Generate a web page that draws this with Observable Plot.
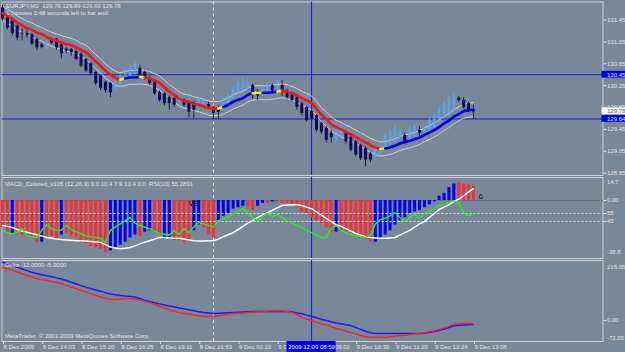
<!DOCTYPE html>
<html><head><meta charset="utf-8">
<script src="https://cdn.jsdelivr.net/npm/d3@7"></script>
<script src="https://cdn.jsdelivr.net/npm/@observablehq/plot@0.6"></script>
<style>
html,body{margin:0;padding:0;background:#778899;}
#chart{position:relative;width:625px;height:352px;background:#778899;overflow:hidden;}
#chart svg{position:absolute;left:0;background:transparent !important;overflow:visible;}
</style></head>
<body><div id="chart"></div>
<script>
// ---------- DATA ----------
const symbolTitle = "EURJPY,M2  129.78 129.89 129.63 129.78";
const timerText = "1 minutes 0:48 seconds left to bar end";
const macdTitle = "MACD_Colored_v105 (12,26,9) 0.0 10.4 7.9 10.4 0.0  RSI(10) 55.2891";
const deltaTitle = "Delta -12.0000 -5.0000";
const copyright = "MetaTrader. \u00A9 2001-2009 MetaQuotes Software Corp.";

const open = [131.67,131.49,131.43,131.34,131.21,131.20,131.18,131.10,131.00,130.93,
131.10,131.10,131.00,130.92,130.91,130.87,130.82,130.73,130.65,130.49,
130.43,130.31,130.29,130.21,130.25,130.35,130.43,130.47,130.56,130.49,
130.39,130.34,130.12,130.10,130.03,130.01,129.95,129.98,129.94,129.92,
129.88,129.92,129.90,129.85,129.82,129.83,129.92,130.03,130.12,130.16,
130.20,130.25,130.14,130.10,130.15,130.25,130.20,130.25,130.15,130.10,
130.03,129.92,129.85,129.78,129.70,129.56,129.47,129.38,129.26,129.31,
129.38,129.30,129.22,129.16,129.10,129.00,128.94,129.00,129.12,129.20,
129.25,129.30,129.34,129.27,129.36,129.43,129.37,129.40,129.50,129.60,
129.67,129.74,129.80,130.02,129.98,129.92,129.78];
const high = [131.72,131.52,131.45,131.36,131.29,131.25,131.20,131.12,131.03,131.06,
131.12,131.12,131.02,130.95,130.93,130.90,130.85,130.75,130.68,130.52,
130.45,130.33,130.31,130.33,130.45,130.56,130.62,130.70,130.62,130.52,
130.42,130.36,130.15,130.12,130.06,130.04,130.05,130.01,129.97,129.96,
130.05,130.02,129.95,129.87,129.88,129.95,130.10,130.23,130.36,130.40,
130.36,130.28,130.18,130.25,130.30,130.28,130.34,130.34,130.18,130.13,
130.05,129.95,129.87,129.80,129.72,129.58,129.50,129.43,129.45,129.52,
129.40,129.33,129.25,129.18,129.13,129.03,129.10,129.15,129.38,129.44,
129.52,129.45,129.38,129.50,129.55,129.50,129.50,129.66,129.76,129.85,
129.96,130.05,130.12,130.05,130.03,129.95,129.89];
const low = [131.43,131.27,131.16,131.07,131.07,131.12,130.98,130.89,130.92,130.90,
131.00,130.90,130.74,130.83,130.79,130.70,130.58,130.49,130.43,130.25,
130.16,130.12,130.03,130.16,130.20,130.32,130.40,130.45,130.37,130.35,
130.25,130.07,129.95,129.88,129.80,129.85,129.90,129.85,129.67,129.65,
129.85,129.88,129.82,129.63,129.62,129.80,129.90,130.00,130.10,130.14,
130.17,130.00,129.98,130.06,130.12,130.12,130.16,130.05,130.00,129.95,
129.80,129.70,129.58,129.60,129.40,129.36,129.20,129.20,129.23,129.28,
129.18,129.04,128.95,128.88,128.76,128.84,128.90,128.97,129.08,129.17,
129.22,129.27,129.17,129.23,129.30,129.30,129.34,129.37,129.47,129.56,
129.64,129.70,129.78,129.94,129.82,129.75,129.63];
const close = [131.47,131.30,131.20,131.12,131.19,131.16,131.01,130.94,130.95,131.02,
131.03,130.94,130.83,130.88,130.85,130.73,130.61,130.52,130.47,130.29,
130.20,130.16,130.12,130.30,130.42,130.50,130.58,130.66,130.40,130.38,
130.29,130.10,129.98,129.92,129.92,129.89,130.00,129.89,129.76,129.80,
130.00,129.98,129.86,129.74,129.76,129.92,130.06,130.20,130.31,130.34,
130.28,130.10,130.06,130.20,130.27,130.16,130.30,130.12,130.03,129.98,
129.85,129.74,129.61,129.64,129.43,129.40,129.25,129.30,129.42,129.49,
129.22,129.07,128.98,128.92,128.89,128.89,129.07,129.10,129.34,129.40,
129.47,129.40,129.21,129.46,129.50,129.38,129.46,129.62,129.72,129.80,
129.92,130.01,130.07,129.98,129.85,129.80,129.78];
const ma = [131.58,131.52,131.47,131.40,131.35,131.30,131.27,131.22,131.19,131.14,
131.10,131.07,131.04,131.01,130.99,130.95,130.90,130.86,130.78,130.69,
130.61,130.52,130.45,130.39,130.36,130.38,130.40,130.40,130.41,130.40,
130.38,130.34,130.30,130.22,130.14,130.08,130.01,129.97,129.95,129.92,
129.90,129.87,129.84,129.83,129.83,129.86,129.90,129.95,129.99,130.02,
130.08,130.11,130.12,130.12,130.12,130.13,130.14,130.155,130.14,130.11,
130.07,130.02,129.98,129.93,129.83,129.72,129.64,129.55,129.49,129.45,
129.40,129.36,129.31,129.26,129.21,129.16,129.12,129.09,129.10,129.12,
129.15,129.19,129.22,129.24,129.27,129.30,129.35,129.39,129.44,129.49,
129.56,129.61,129.68,129.73,129.78,129.80,129.81];
// trend segments of the MA: [first bar, last bar, trend]
const maTrend = [[0,24,"down"],[24,25,"turn"],[25,28,"up"],[28,29,"turn"],[29,44,"down"],
[44,45,"turn"],[45,51,"up"],[51,53,"turn"],[53,56,"up"],[56,57,"turn"],[57,77,"down"],
[77,78,"turn"],[78,96,"up"]];

const hist = [-19,-22,-23,-24,-24,-25,-26,-29,-29,-26,
-25,-27,-24,-23,-25,-26,-29,-30,-32,-33,
-34,-36,-35,-33,-31,-29,-26,-24,-25,-22,
-21,-22,-24,-26,-27,-28,-28,-29,-29,-21,
-17,-19,-24,-26,-14,-11,-9,-6,-5,-4,
-5,-7,-4,-2,-2,-1,-1,-2,-2,-3,
-5,-8,-9,-12,-14,-16,-19,-22,-22,-21,
-22,-23,-24,-26,-27,-29,-29,-26,-24,-21,
-17,-14,-12,-9,-8,-7,-5,-3,-1,3,
5,9,11.5,12.3,11.6,11,10];
const histColor = ("RR"+"B"+"RRRRR"+"B"+"RRR"+"B"+"RRRRRRRRR"+"BBBBBB"+"R"+"BB"+"RR"+"BB"+"RRRR"+"BB"+"RRR"+
  "BBBBBB"+"RR"+"BB"+"R"+"B"+"RRRRRRRRRRRR"+"B"+"RRRRRRR"+"BBBBBBBBBBBBBBBBB"+"RRRR").split("");
const rsi = [34,31,30,31,36,27,26,25,34,41,
36,34,34,40,35,32,30,27,26,25,
24,19,34,38,42,46,50,43,40,38,
36,33,30,29,28,34,29,36,31,38,
44,42,40,38,46,48,51,54,58,61,
56,50,46,51,55,51,54,50,46,43,
40,38,34,31,28,25,25,36,40,34,
31,29,27,26,25,28,42,47,49,52,
56,50,45,50,54,49,55,58,61,65,
67,69,71,68,56,52,55];
const signal = [40,39,37.5,35,33,31.5,30,28.5,27,25,
24,23,22.5,22,21.5,21,21,20.5,20,19.5,
19,16,13,12,11,11.5,12.5,14.5,17,19,
21,23,25,25,24.5,24,24,23,22,21,
20.5,20.5,21,21,23,26,28.5,31,35,39,
43,46,50,53,56,59,62,65,65.5,66,
66,65,63,61,57,53,49,45,41,39,
36,33,30,28,26,25,24.5,24,24,24.5,
25,28,31,34,38,42,45,50,55,60,
63,66,70,73,77,82,86];
const deltaBlue = [218,211,205,199,192,186,180,175,171,167,
163,159,155,149,143,137,130,124,119,114,
109,104,99,96,93,91,90,88,82,76,
71,66,62,58,54,51,47,44,40,36,
33,30,28,26,27,28,29,30,31,32,
33,34,34,34,34,34,34,34,34,33,
28,25,20,15,10,5,0,-5,-9,-12,
-16,-19,-26,-33,-40,-46,-49,-49,-49,-49,
-49,-49,-49,-49,-49,-49,-48,-45,-41,-37,
-32,-26,-20,-18,-17,-16,-15];
const deltaRed = [198,193,187,181,174,168,162,157,153,150,
146,142,138,132,125,119,112,106,100,94,
88,82,79,78,80,82,82,80,76,71,
67,60,53,46,40,34,29,26,24,21,
18,16,15,15,18,21,24,26,27,28,
30,31,32,33,35,36,37,36,34,30,
22,12,6,0,-6,-12,-17,-23,-29,-34,
-40,-45,-50,-56,-61,-63,-63,-63,-63,-61,
-59,-57,-55,-52,-50,-48,-46,-42,-38,-34,
-28,-22,-15,-11,-11,-11,-11];

const priceTicks = [131.45,131.05,130.65,130.25,129.85,129.45,129.05,128.65];
const priceLines = [130.45, 129.64];
const priceBoxes = [{v:130.45,bg:"#0000f0",fg:"#dfe6ff"},{v:129.78,bg:"#ffffff",fg:"#606060"},{v:129.64,bg:"#0000f0",fg:"#dfe6ff"}];
const macdTicks = [0];
const macdTopTick = 14.7, macdBottomTick = -38.8;
const rsiLevels = [55, 45];
const deltaTicks = [0];
const deltaTopTick = 215.05, deltaBottomTick = -72.05;
const timeTicks = [0,8,16,24,32,40,48,56,64,72,80,88,96];
const timeLabels = ["8 Dec 2009","8 Dec 14:03","8 Dec 15:20","8 Dec 16:25","8 Dec 19:11","8 Dec 21:53",
  "9 Dec 02:22","9 Dec 06:14","9 Dec 09:02","9 Dec 10:30","9 Dec 11:20","9 Dec 12:24","9 Dec 13:08"];
const dashedBar = 43;                 // dashed white vertical line
const crossBar = 63;                  // crosshair bar
const crossLabel = "2009.12.09 08:59";
const macdNotes = [{i:37.9, v:-2, t:"VB", c:"#2a0808"},{i:97, v:2.8, t:"6", c:"#0a0a50"}];

// ---------- BUILD ----------
const bars = open.map((o,i)=>({i, o, h:high[i], l:low[i], c:close[i], bull: close[i] > open[i]}));
const maAll = ma.map((v,i)=>({i, v}));
const maPts = [];
maTrend.forEach(([a,b,t],k)=>{ for(let i=a;i<=b;i++) maPts.push({i, v:ma[i], seg:k, t}); });
const trendColor = {down:"#ff1010", up:"#0000ff", turn:"#ffee00"};
const histData = hist.map((v,i)=>({i, v, c: histColor[i]}));
const rsiData = rsi.map((v,i)=>({i, v}));
const sigData = signal.map((v,i)=>({i, v}));
const dB = deltaBlue.map((v,i)=>({i, v}));
const dR = deltaRed.map((v,i)=>({i, v}));
const timeLabelOf = new Map(timeTicks.map((t,k)=>[t, timeLabels[k]]));

const W = 625, xDomain = [-0.1, 122.4];
const TXT = "#e6e6e6", FRAME = "#d2d2d2";
const FONT = "'Liberation Sans', Arial, sans-serif";
function base(h, mt, mb, yDomain){
  return {width:W, height:h, marginLeft:1.5, marginRight:22.5, marginTop:mt, marginBottom:mb,
    x:{domain:xDomain, axis:null, label:null}, y:{domain:yDomain, axis:null, label:null},
    style:`background:transparent;color:${TXT};font-family:${FONT};font-size:6px;overflow:visible;`};
}
const yAxis = (ticks, fmt, o={}) => Plot.axisY({anchor:"right", ticks, tickSize:3, tickPadding:1, label:null, tickFormat:fmt, ...o});
const vLines = () => [
  Plot.ruleX([dashedBar], {stroke:"#ececec", strokeDasharray:"3,3"}),
  Plot.ruleX([crossBar], {stroke:"#1414e6"})
];

const chart = document.getElementById("chart");
function place(svg, top){ svg.style.position="absolute"; svg.style.top=top+"px"; svg.style.left="0px"; chart.appendChild(svg); }

// Price panel
const pricePlot = Plot.plot({...base(177, 1.5, 2, [128.606, 131.78]), marks:[
  Plot.frame({stroke:FRAME}),
  Plot.text([symbolTitle], {frameAnchor:"top-left", dx:4, dy:4.5, text:d=>d, fill:TXT, lineAnchor:"middle"}),
  Plot.text([timerText], {frameAnchor:"top-left", dx:4, dy:11.5, text:d=>d, fill:TXT, lineAnchor:"middle"}),
  Plot.ruleY(priceLines, {stroke:"#1c1cd4"}),
  ...vLines(),
  Plot.line(maAll, {x:"i", y:"v", dy:-7, stroke:"#d4d4d4", strokeWidth:1, curve:"monotone-x"}),
  Plot.line(maAll, {x:"i", y:"v", dy:7, stroke:"#d4d4d4", strokeWidth:1, curve:"monotone-x"}),
  Plot.ruleX(bars, {x:"i", y1:"l", y2:"h", stroke:d=>d.bull?"#55aaff":"#1e1e2a"}),
  Plot.ruleX(bars.filter(d=>!d.bull), {x:"i", y1:"o", y2:"c", stroke:"#0c0c5e", strokeWidth:3}),
  Plot.ruleX(bars.filter(d=>d.bull), {x:"i", y1:"o", y2:"c", stroke:"#55aaff", strokeWidth:3, strokeDasharray:"1,1"}),
  Plot.dot(bars.filter(d=>Math.abs(d.c-d.o)<0.02), {x:"i", y:"c", symbol:"square", r:1.2, fill:"#0c0c5e"}),
  Plot.line(maPts, {x:"i", y:"v", z:"seg", stroke:d=>trendColor[d.t], strokeWidth:2.6, curve:"monotone-x"}),
  yAxis(priceTicks, d=>d.toFixed(2)),
  Plot.rect(priceBoxes, {y1:d=>d.v-0.062, y2:d=>d.v+0.062, insetLeft:600, insetRight:-23, fill:d=>d.bg}),
  Plot.text(priceBoxes, {y:"v", text:d=>d.v.toFixed(2), frameAnchor:"right", dx:4, textAnchor:"start", fill:d=>d.fg})
]});
place(pricePlot, 0);

// MACD histogram panel
const macdPlot = Plot.plot({...base(83, 1, 1, [-40.3, 16.0]), marks:[
  Plot.frame({stroke:FRAME}),
  Plot.ruleY([0], {stroke:"#4a4a4a", strokeDasharray:"1,2"}),
  ...vLines(),
  Plot.ruleX(histData, {x:"i", y1:0, y2:"v", stroke:d=>d.c==="R"?"#ff2a2a":"#0000ff", strokeWidth:3}),
  Plot.text([macdTitle], {frameAnchor:"top-left", dx:3, dy:7, text:d=>d, fill:TXT, lineAnchor:"middle"}),
  Plot.text(macdNotes, {x:"i", y:"v", text:"t", fill:"c", fontSize:8, textAnchor:"start"}),
  yAxis(macdTicks, d=>d.toFixed(2)),
  yAxis([macdTopTick], d=>String(d), {tickSize:0, tickPadding:4, dy:3}),
  yAxis([macdBottomTick], d=>String(d), {tickSize:0, tickPadding:4, dy:-4})
]});
place(macdPlot, 176);

// RSI overlay (same panel)
const rsiPlot = Plot.plot({...base(83, 1, 1, [-1.25, 100]), marks:[
  Plot.ruleY(rsiLevels, {stroke:"#e2e2e2", strokeDasharray:"2,2"}),
  Plot.line(sigData, {x:"i", y:"v", stroke:"#ffffff", strokeWidth:1.5}),
  Plot.line(rsiData, {x:"i", y:"v", stroke:"#22ee22", strokeWidth:1.5}),
  yAxis(rsiLevels, d=>String(d))
]});
place(rsiPlot, 176);

// Delta panel with time axis
const deltaPlot = Plot.plot({...base(94, 2, 11, [-78.4, 223.9]), marks:[
  Plot.frame({stroke:FRAME}),
  ...vLines(),
  Plot.line(dB, {x:"i", y:"v", stroke:"#1a1aff", strokeWidth:1.5}),
  Plot.line(dR, {x:"i", y:"v", stroke:"#ff2020", strokeWidth:1.5}),
  Plot.text([deltaTitle], {frameAnchor:"top-left", dx:3, dy:5, text:d=>d, fill:TXT, lineAnchor:"middle"}),
  Plot.text([copyright], {frameAnchor:"bottom-left", dx:3, dy:-5, text:d=>d, fill:TXT, lineAnchor:"middle"}),
  yAxis(deltaTicks, d=>d.toFixed(2)),
  yAxis([deltaTopTick], d=>d.toFixed(2), {tickSize:0, tickPadding:4, dy:4}),
  yAxis([deltaBottomTick], d=>d.toFixed(2), {tickSize:0, tickPadding:4, dy:-2}),
  Plot.axisX({anchor:"bottom", ticks:timeTicks, tickSize:3, tickPadding:0, label:null, textAnchor:"start", dx:1, tickFormat:d=>timeLabelOf.get(d)}),
  Plot.rect([crossBar], {x1:d=>d-5, x2:d=>d+5, insetTop:81, insetBottom:-11, fill:"#0000ee"}),
  Plot.text([crossBar], {x:d=>d, text:()=>crossLabel, frameAnchor:"bottom", dy:5.5, fill:"#ffffff", lineAnchor:"middle"})
]});
place(deltaPlot, 258);
</script>
</body></html>
